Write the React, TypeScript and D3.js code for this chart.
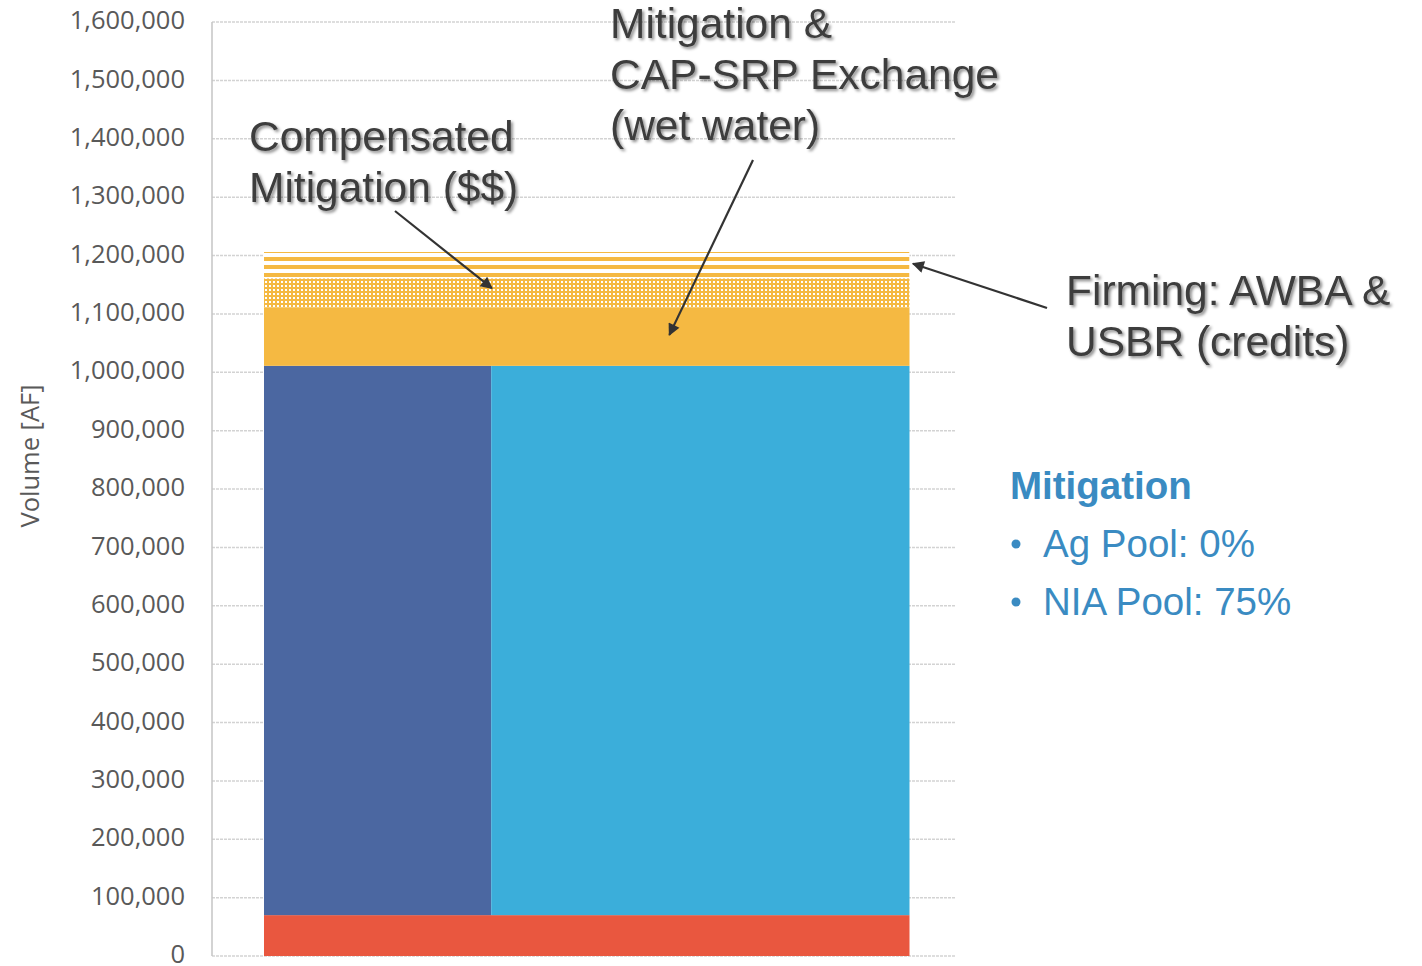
import React from "react";
import * as d3 from "d3";

// ---- Data ----
const yTickValues = [0, 100000, 200000, 300000, 400000, 500000, 600000, 700000, 800000, 900000, 1000000, 1100000, 1200000, 1300000, 1400000, 1500000, 1600000];
const baseLayerName = "Base";
const baseLayerValue = 70000;
const poolNames = ["Ag Pool", "NIA Pool"];
const poolShares = [0.352, 0.648];
const poolValue = 941000;
const upperLayerNames = ["Mitigation & CAP-SRP Exchange", "Compensated Mitigation", "Firming"];
const upperLayerValues = [100000, 50000, 45000];
const annotationCompensated = ["Compensated", "Mitigation ($$)"];
const annotationExchange = ["Mitigation &", "CAP-SRP Exchange", "(wet water)"];
const annotationFirming = ["Firming: AWBA &", "USBR (credits)"];
const legendTitle = "Mitigation";
const legendItems = ["Ag Pool: 0%", "NIA Pool: 75%"];
const yAxisTitle = "Volume [AF]";

const W = 1422;
const H = 966;

const COLORS = {
  base: "#E9573F",
  ag: "#4B67A1",
  nia: "#3BAEDA",
  yellow: "#F5B942",
};

export default function App() {
  const y = d3.scaleLinear().domain([0, 1600000]).range([956, 22]);
  const x = d3.scaleLinear().domain([0, 1]).range([264, 909.5]);
  const fmt = d3.format(",");

  const baseTop = baseLayerValue;
  const poolTop = baseTop + poolValue;
  const poolStarts = d3.cumsum([0, ...poolShares]);
  const upperStarts = d3.cumsum([poolTop, ...upperLayerValues]);

  const fills = [COLORS.yellow, "url(#dots)", "none"];
  const firmingTopY = y(upperStarts[3]);
  const firmingBottomY = y(upperStarts[2]);
  // stripe bands inside the firming layer (8px period, 4px stripe, first stripe partially cut)
  const stripeStarts = d3.range(firmingTopY - 3, firmingBottomY, 8);

  const arrowCompTip = [x(0.353), y(1144000)];
  const arrowExchTip = [x(0.628), y(1064000)];
  const arrowFirmTip = [x(1) + 3.5, y(1186000)];

  const annColor = "#3d3d3d";
  const legendColor = "#3A8BC2";

  return (
    <svg width={W} height={H} style={{ position: "absolute", left: 0, top: 0, display: "block", background: "#fff" }}>
      <defs>
        <pattern id="dots" patternUnits="userSpaceOnUse" x={0} y={0} width={4} height={4}>
          <rect x={0} y={0} width={4} height={4} fill={COLORS.yellow} />
          <rect x={1} y={1} width={2} height={2} fill="#ffffff" />
        </pattern>
        <clipPath id="firmClip">
          <rect x={x(0)} width={x(1) - x(0)} y={firmingTopY} height={firmingBottomY - firmingTopY} />
        </clipPath>
        <filter id="shadow" x="-10%" y="-20%" width="130%" height="150%">
          <feDropShadow dx="2" dy="2" stdDeviation="1.4" floodColor="#000" floodOpacity="0.45" />
        </filter>
        <marker id="arrow" viewBox="0 0 10 10" refX={9} refY={5} markerWidth={15} markerHeight={12} markerUnits="userSpaceOnUse" orient="auto">
          <path d="M0,0 L10,5 L0,10 Z" fill="#333" />
        </marker>
      </defs>

      {yTickValues.map((t) => (
        <line key={"g" + t} x1={212} x2={955} y1={y(t)} y2={y(t)} stroke="#d3d3d3" strokeWidth={1.5} strokeDasharray="3,1" />
      ))}
      <line x1={212} x2={212} y1={y(1600000)} y2={y(0)} stroke="#c4c4c4" strokeWidth={1.5} />

      {yTickValues.map((t) => (
        <text key={"t" + t} x={185} y={y(t)} dy="0.28em" textAnchor="end" fontFamily="'Open Sans', sans-serif" fontSize={25.5} fill="#595959">
          {fmt(t)}
        </text>
      ))}

      <text transform={`translate(39,456) rotate(-90)`} textAnchor="middle" fontFamily="'Open Sans', sans-serif" fontSize={25.5} fill="#595959">
        {yAxisTitle}
      </text>

      <rect x={x(0)} width={x(1) - x(0)} y={y(baseTop)} height={y(0) - y(baseTop)} fill={COLORS.base}>
        <title>{baseLayerName}</title>
      </rect>
      {poolNames.map((p, i) => (
        <rect key={p} x={x(poolStarts[i])} width={x(poolStarts[i + 1]) - x(poolStarts[i])} y={y(poolTop)} height={y(baseTop) - y(poolTop)} fill={i === 0 ? COLORS.ag : COLORS.nia}>
          <title>{p}</title>
        </rect>
      ))}
      {upperLayerNames.map((n, i) => (
        <rect key={n} x={x(0)} width={x(1) - x(0)} y={y(upperStarts[i + 1])} height={y(upperStarts[i]) - y(upperStarts[i + 1])} fill={fills[i] === "none" ? "#fff" : fills[i]}>
          <title>{n}</title>
        </rect>
      ))}
      <g clipPath="url(#firmClip)">
        {stripeStarts.map((s) => (
          <rect key={s} x={x(0)} width={x(1) - x(0)} y={s} height={4} fill={COLORS.yellow} />
        ))}
      </g>

      <g fontFamily="'Liberation Sans', Arial, sans-serif" fontSize={42.5} fill={annColor} filter="url(#shadow)">
        {annotationCompensated.map((s, i) => (
          <text key={s} x={249} y={151 + i * 51}>{s}</text>
        ))}
        {annotationExchange.map((s, i) => (
          <text key={s} x={610} y={38 + i * 51}>{s}</text>
        ))}
        {annotationFirming.map((s, i) => (
          <text key={s} x={1066} y={305 + i * 51}>{s}</text>
        ))}
      </g>

      <g stroke="#333" strokeWidth={2.2} fill="none">
        <line x1={395} y1={211} x2={arrowCompTip[0]} y2={arrowCompTip[1]} markerEnd="url(#arrow)" />
        <line x1={753} y1={160} x2={arrowExchTip[0]} y2={arrowExchTip[1]} markerEnd="url(#arrow)" />
        <line x1={1047} y1={308} x2={arrowFirmTip[0]} y2={arrowFirmTip[1]} markerEnd="url(#arrow)" />
      </g>

      <g fontFamily="'Liberation Sans', Arial, sans-serif" fill={legendColor}>
        <text x={1010} y={499} fontSize={38.5} fontWeight="bold">{legendTitle}</text>
        {legendItems.map((s, i) => (
          <g key={s}>
            <circle cx={1016} cy={544 + i * 58} r={4.5} />
            <text x={1043} y={557 + i * 58} fontSize={38.5}>{s}</text>
          </g>
        ))}
      </g>
    </svg>
  );
}
